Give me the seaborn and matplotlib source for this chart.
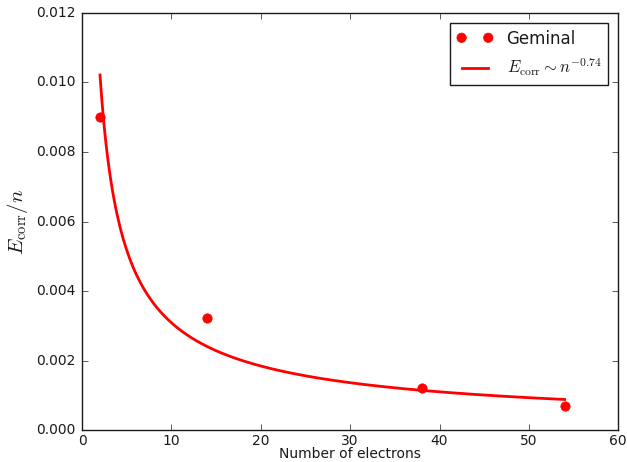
import numpy as np
import pandas as pd
import matplotlib
matplotlib.use("Agg")
import matplotlib.pyplot as plt
import seaborn as sns

# Data
electrons = [2, 14, 38, 54]
ecorr_per_n = [0.0090, 0.00322, 0.00122, 0.00070]
x_ticks = [0, 10, 20, 30, 40, 50, 60]
y_ticks = [0.000, 0.002, 0.004, 0.006, 0.008, 0.010, 0.012]

sns.set_theme(style="white")
plt.style.use("classic")
plt.rcParams["font.family"] = ["DejaVu Sans"]
plt.rcParams["mathtext.fontset"] = "cm"

# power-law fit of the data (log-log linear regression)
slope, intercept = np.polyfit(np.log(electrons), np.log(ecorr_per_n), 1)
n_fit = np.linspace(min(electrons), max(electrons), 300)
fit_df = pd.DataFrame({"n": n_fit, "E": np.exp(intercept) * n_fit ** slope})
pts_df = pd.DataFrame({"n": electrons, "E": ecorr_per_n})

fig = plt.figure(figsize=(6.27, 4.62), dpi=100)
ax = fig.add_axes([0.131, 0.069, 0.855, 0.903])

sns.scatterplot(data=pts_df, x="n", y="E", ax=ax, color="red", edgecolor="red",
                s=45, marker="o", label="Geminal", zorder=3)
sns.lineplot(data=fit_df, x="n", y="E", ax=ax, color="red", linewidth=2,
             label=r"$E_{\rm corr} \sim n^{%.2f}$" % slope)

ax.set_xlim(0, 60)
ax.set_ylim(0, 0.012)
ax.set_xticks(x_ticks)
ax.set_xticklabels([str(v) for v in x_ticks])
ax.set_yticks(y_ticks)
ax.set_yticklabels(["%.3f" % v for v in y_ticks])
ax.tick_params(axis="y", labelsize=10, pad=5)
ax.tick_params(axis="x", labelsize=10, pad=3)
ax.set_xlabel("Number of electrons", fontsize=10, labelpad=-1)
ax.set_ylabel(r"$E_{\rm corr}/n$", fontsize=15, labelpad=4)

handles, labels = ax.get_legend_handles_labels()
ax.legend(handles, labels, loc="upper right", numpoints=2, scatterpoints=2,
          scatteryoffsets=[0.5, 0.5], fontsize=12, frameon=True,
          handlelength=2.2, borderaxespad=0.6)

fig.savefig("out.png", dpi=100)
